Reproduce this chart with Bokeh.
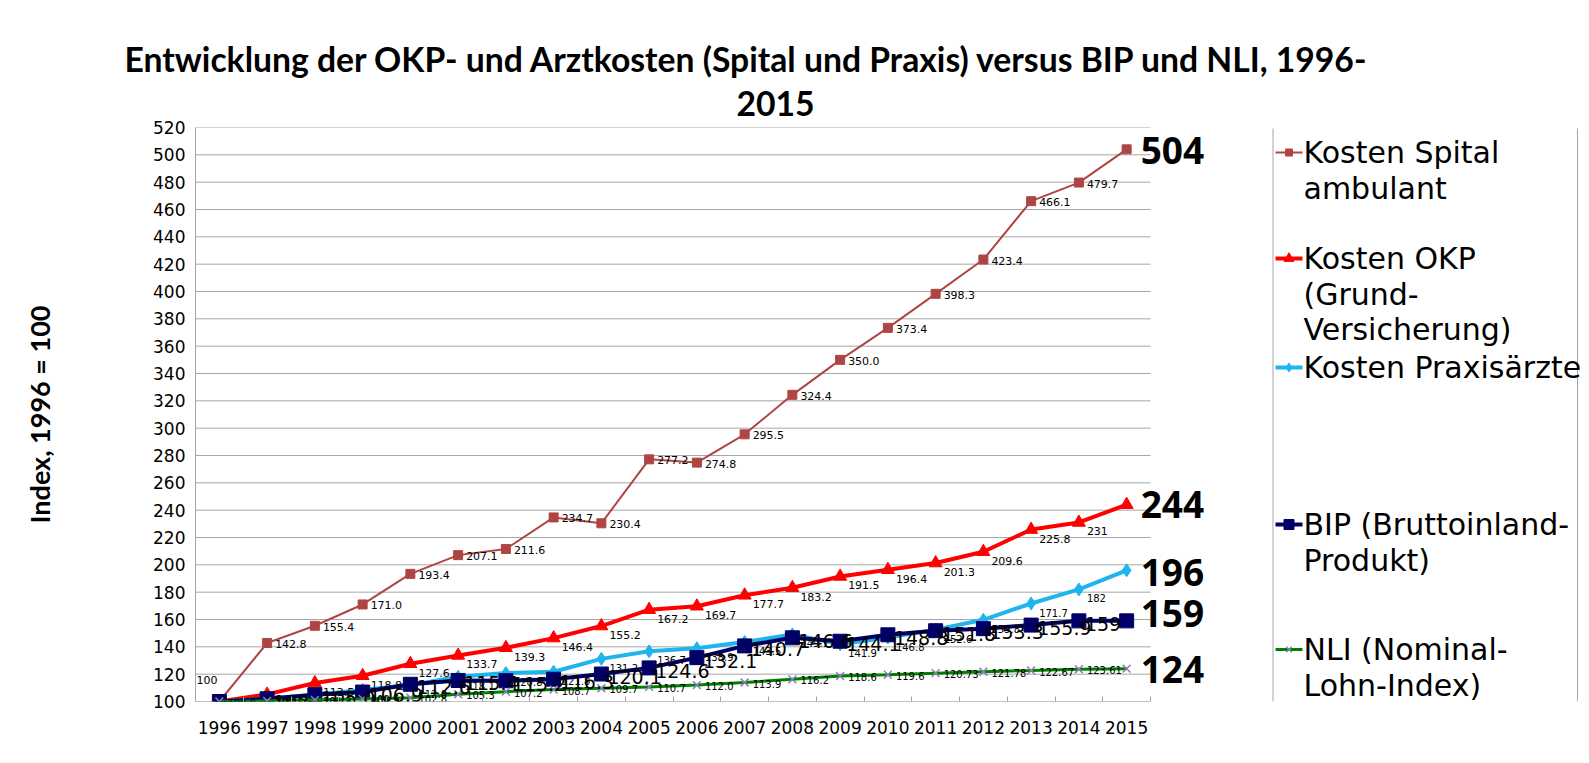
from bokeh.plotting import figure
from bokeh.models import ColumnDataSource, Range1d, FixedTicker, Title
from bokeh.embed import file_html
from bokeh.resources import INLINE
from bokeh.core.properties import value

# ---------------- data ----------------
years = ["1996", "1997", "1998", "1999", "2000", "2001", "2002", "2003", "2004", "2005",
         "2006", "2007", "2008", "2009", "2010", "2011", "2012", "2013", "2014", "2015"]

spital = [100, 142.8, 155.4, 171.0, 193.4, 207.1, 211.6, 234.7, 230.4, 277.2,
          274.8, 295.5, 324.4, 350.0, 373.4, 398.3, 423.4, 466.1, 479.7, 504]
okp = [100.0, 105.2, 113.5, 118.8, 127.6, 133.7, 139.3, 146.4, 155.2, 167.2,
       169.7, 177.7, 183.2, 191.5, 196.4, 201.3, 209.6, 225.8, 231, 244]
praxis = [100.0, 102.0, 105.0, 108.5, 112.0, 118.1, 120.8, 121.8, 131.2, 136.7,
          138.9, 143.5, 149.1, 141.9, 146.8, 152.6, 159.8, 171.7, 182, 196]
bip = [100.0, 102, 105.0, 106.9, 112.6, 115.4, 115.2, 116.3, 120.1, 124.6,
       132.1, 140.7, 146.6, 144.1, 148.8, 151.8, 153.3, 155.9, 159, 159]
nli = [100.0, 100.5, 101.2, 101.9, 102.8, 105.3, 107.2, 108.7, 109.7, 110.7,
       112.0, 113.9, 116.2, 118.6, 119.6, 120.73, 121.78, 122.67, 123.61, 124]

names = ["Kosten Spital\nambulant", "Kosten OKP\n(Grund-\nVersicherung)", "Kosten Praxisärzte",
         "BIP (Bruttoinland-\nProdukt)", "NLI (Nominal-\nLohn-Index)"]
y_ticks = list(range(100, 521, 20))

title_lines = ["Entwicklung der OKP- und Arztkosten (Spital und Praxis) versus BIP und NLI, 1996-", "2015"]
y_title = "Index, 1996 = 100"

# ---------------- styles / geometry ----------------
C_SPITAL = "#AE4545"
C_OKP = "#FF0000"
C_PRAXIS = "#1FB4EE"
C_BIP = "#000066"
C_NLI = "#008000"
C_NLI_M = "#8C7DB8"
GRID = "#A6A6A6"

W, H = 1586, 760
BL, BT = 195, 127                  # frame left / top (canvas px)
FB = 701                           # frame bottom (canvas px)
BB = H - FB
N = len(years)
STEP = 47.75                       # px per category
X_END = -0.5 + (W - BL) / STEP
Y0, Y1 = 100, 520
PXU = (FB - BT) / (Y1 - Y0)        # px per y unit


def lx(cx):   # canvas px -> data x (legend layout only)
    return (cx - BL) / STEP - 0.5


def ly(cy):   # canvas px from top -> data y (legend layout only)
    return Y1 - (cy - BT) / PXU


xs = list(range(N))

p = figure(width=W, height=H, x_range=Range1d(-0.5, X_END), y_range=Range1d(Y0, Y1),
           output_backend="svg", toolbar_location=None, title=None,
           min_border_left=BL, min_border_right=0, min_border_top=BT, min_border_bottom=BB)
p.outline_line_color = None
p.xgrid.visible = False
p.ygrid.visible = False

# title lines (nearest to frame first)
p.add_layout(Title(text=title_lines[1], align="left", offset=541, standoff=21, vertical_align="middle",
                   text_font="Lato", text_font_style="bold", text_font_size="33.7px",
                   text_color="black"), "above")
p.add_layout(Title(text=title_lines[0], align="left", offset=-71, standoff=0, vertical_align="middle",
                   text_font="Lato", text_font_style="bold", text_font_size="33.7px",
                   text_color="black"), "above")

# gridlines & baseline limited to the category area
gy = y_ticks[1:]
p.segment(x0=[-0.5] * len(gy), y0=gy, x1=[N - 0.5] * len(gy), y1=gy, line_color=GRID, line_width=1)
p.segment(x0=[-0.5], y0=[Y0], x1=[N - 0.5], y1=[Y0], line_color="#868686", line_width=1.2)

p.xaxis.ticker = FixedTicker(ticks=xs, minor_ticks=[i - 0.5 for i in range(N + 1)])
p.xaxis.major_label_overrides = {i: y for i, y in enumerate(years)}
p.xaxis.axis_line_color = None
p.xaxis.major_tick_in = 0
p.xaxis.major_tick_out = 0
p.xaxis.minor_tick_in = 5
p.xaxis.minor_tick_out = 0
p.xaxis.minor_tick_line_color = GRID
p.xaxis.major_label_standoff = 19
p.xaxis.major_label_text_font = "DejaVu Sans"
p.xaxis.major_label_text_font_size = "17px"
p.xaxis.major_label_text_color = "black"

p.yaxis.ticker = FixedTicker(ticks=y_ticks)
p.yaxis.major_tick_in = 0
p.yaxis.major_tick_out = 0
p.yaxis.minor_tick_line_color = None
p.yaxis.axis_line_color = GRID
p.yaxis.major_label_standoff = 10
p.yaxis.major_label_text_font = "DejaVu Sans"
p.yaxis.major_label_text_font_size = "17px"
p.yaxis.major_label_text_color = "black"
p.yaxis.axis_label = y_title
p.yaxis.axis_label_text_font = "Lato"
p.yaxis.axis_label_text_font_style = "bold"
p.yaxis.axis_label_text_font_size = "27px"
p.yaxis.axis_label_text_color = "black"
p.yaxis.axis_label_standoff = 94

# series
p.line(xs, spital, line_color=C_SPITAL, line_width=2)
p.scatter(xs, spital, marker="square", size=9, color=C_SPITAL)

p.line(xs, okp, line_color=C_OKP, line_width=4)
p.scatter(xs, okp, marker="triangle", size=13, color=C_OKP)

p.line(xs, praxis, line_color=C_PRAXIS, line_width=4)
p.scatter(xs, praxis, marker="diamond", size=13, color=C_PRAXIS)

p.line(xs, bip, line_color=C_BIP, line_width=4)
p.scatter(xs, bip, marker="square", size=14, color=C_BIP)

p.line(xs, nli, line_color=C_NLI, line_width=3)
p.scatter(xs, nli, marker="x", size=11, line_color=C_NLI_M, line_width=1.5)


def labels(vals, start, size, dy, dx=8):
    idx = list(range(start, len(vals) - 1))
    src = ColumnDataSource(dict(x=idx, y=[vals[i] for i in idx], t=[str(vals[i]) for i in idx]))
    p.text("x", "y", text="t", source=src, x_offset=dx, y_offset=dy,
           text_font=value("DejaVu Sans"), text_font_size=size, text_color="black",
           text_baseline="middle", text_align="left")


labels(spital, 1, "11px", 1)
labels(okp, 1, "11px", 9)
labels(praxis, 1, "10px", 9)
labels(nli, 0, "10px", 1)
labels(bip, 1, "19px", 3, dx=6)

# Spital 1996 label at the left edge
p.text([-0.5], [spital[0]], text=[str(spital[0])], x_offset=1, y_offset=-22,
       text_font=value("DejaVu Sans"), text_font_size="11px", text_color="black",
       text_baseline="middle", text_align="left")

# big end labels (value of 2015)
ends = [spital[-1], okp[-1], praxis[-1], bip[-1], nli[-1]]
end_dy = [1, 0, 2, -7, 1]
esrc = ColumnDataSource(dict(x=[N - 1] * len(ends), y=ends, t=[str(int(round(v))) for v in ends],
                             dy=end_dy))
p.text("x", "y", text="t", source=esrc, x_offset=14, y_offset="dy",
       text_font=value("Open Sans"), text_font_style="bold", text_font_size="37px",
       text_color="black", text_baseline="middle", text_align="left")

# ---------------- legend (drawn at the right) ----------------
LEG_L, LEG_R = 1272.5, 1577
p.segment(x0=[lx(LEG_L), lx(LEG_R)], y0=[ly(128)] * 2, x1=[lx(LEG_L), lx(LEG_R)], y1=[Y0] * 2,
          line_color=GRID, line_width=1)

first_line_y = [152, 258, 367, 524, 649]
colors = [C_SPITAL, C_OKP, C_PRAXIS, C_BIP, C_NLI]
markers = ["square", "triangle", "diamond", "square", "x"]
msizes = [7, 10, 9, 10, 8]
lwidths = [2, 4, 4, 4, 3]
for name, cy, c, m, ms, lw in zip(names, first_line_y, colors, markers, msizes, lwidths):
    p.line([lx(1275), lx(1302)], [ly(cy), ly(cy)], line_color=c, line_width=lw)
    if m == "x":
        p.scatter([lx(1288.5)], [ly(cy)], marker=m, size=ms, line_color=C_NLI_M, line_width=1.5)
    else:
        p.scatter([lx(1288.5)], [ly(cy)], marker=m, size=ms, color=c)
    lines = name.split("\n")
    p.text([lx(1303)] * len(lines), [ly(cy + 35.5 * k) for k in range(len(lines))], text=lines,
           text_font=value("DejaVu Sans"), text_font_size="30px",
           text_color="black", text_baseline="middle", text_align="left")

open("out.html", "w").write(file_html(p, INLINE))
